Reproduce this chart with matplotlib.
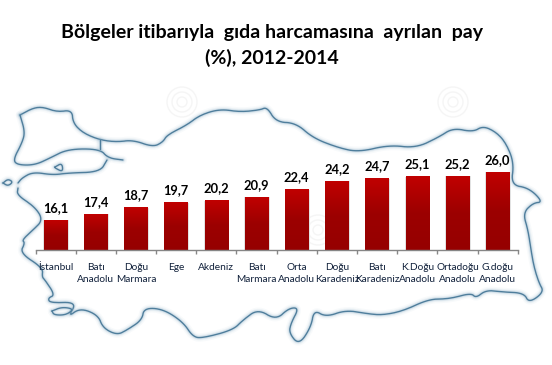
import numpy as np
from matplotlib import pyplot as plt
from matplotlib.colors import LinearSegmentedColormap

W = 552
H = 365

# chart values
regions = ["İstanbul", "Batı\nAnadolu", "Doğu\nMarmara", "Ege", "Akdeniz", "Batı\nMarmara",
           "Orta\nAnadolu", "Doğu\nKaradeniz", "Batı\nKaradeniz", "K.Doğu\nAnadolu",
           "Ortadoğu\nAnadolu", "G.doğu\nAnadolu"]
shares = [16.1, 17.4, 18.7, 19.7, 20.2, 20.9, 22.4, 24.2, 24.7, 25.1, 25.2, 26.0]
value_labels = ["16,1", "17,4", "18,7", "19,7", "20,2", "20,9", "22,4", "24,2", "24,7", "25,1", "25,2", "26,0"]

title = "Bölgeler itibarıyla  gıda harcamasına  ayrılan  pay\n(%), 2012-2014"

# background map outline, in image pixels
coast_main = [(20, 115), (33, 108), (43, 107), (57, 112), (72, 110), (73, 123), (83, 133), (100, 140),
              (117, 142), (133, 140), (153, 147), (163, 142), (167, 135), (187, 125), (200, 115),
              (220, 109), (240, 112), (260, 110), (267, 107), (276, 122), (296, 123), (313, 138),
              (339, 148), (359, 152), (389, 145), (416, 148), (439, 137), (453, 128), (473, 132),
              (483, 126), (496, 132), (506, 143), (514, 163), (511, 185), (529, 188), (543, 202),
              (533, 203), (523, 213), (528, 230), (531, 250), (534, 267), (539, 283), (544, 292),
              (529, 303), (524, 293), (503, 292), (486, 290), (476, 298), (471, 293), (449, 299),
              (429, 299), (403, 311), (383, 315), (369, 314), (346, 310), (326, 317), (314, 310),
              (311, 327), (299, 345), (289, 333), (291, 323), (299, 308), (289, 308), (276, 320),
              (258, 309), (243, 320), (233, 330), (203, 338), (193, 337), (183, 322), (163, 309),
              (144, 308), (142, 320), (127, 330), (117, 335), (103, 328), (98, 315), (80, 308),
              (68, 317), (77, 302), (50, 303), (48, 298), (55, 295), (45, 280), (42, 277), (43, 268),
              (20, 253), (25, 243), (22, 240), (33, 230), (43, 220), (35, 207), (17, 195), (18, 188)]
coast_thrace = [(20, 115), (25, 132), (22, 143), (13, 160), (18, 165), (35, 165), (50, 158), (68, 149),
                (100, 149), (108, 158), (123, 160)]
coast_marmara = [(18, 183), (22, 178), (33, 172), (53, 175), (68, 173), (100, 172), (107, 160)]
strait = [(100, 140), (100, 149)]
island_a = [(3, 183), (8, 179), (13, 182), (8, 186), (3, 183)]
island_b = [(55, 167), (62, 163), (63, 172), (55, 168), (55, 167)]
island_c = [(52, 311), (62, 307), (74, 309), (66, 315), (54, 315), (52, 311)]
map_pieces = [coast_main, coast_thrace, coast_marmara, strait, island_a, island_b, island_c]

watermark_rings = [(182, 102), (453, 102), (318, 230)]


# rounds off the corners of the hand traced outline
def smooth_outline(points, rounds=3):
    pts = np.array(points, dtype=float)
    for r in range(rounds):
        q = pts[:-1] * 0.75 + pts[1:] * 0.25
        s = pts[:-1] * 0.25 + pts[1:] * 0.75
        mid = np.empty((len(q) * 2, 2))
        mid[0::2] = q
        mid[1::2] = s
        pts = np.vstack([pts[0], mid, pts[-1]])
    return pts


fig = plt.figure(figsize=(W / 100, H / 100), dpi=100, facecolor="white")

# full size layer for the map
bg = fig.add_axes([0, 0, 1, 1])
bg.set_xlim(0, W)
bg.set_ylim(H, 0)
bg.axis("off")

for piece in map_pieces:
    pts = smooth_outline(piece)
    for lw, alpha in [(6, 0.05), (4, 0.10), (2.5, 0.22)]:
        bg.plot(pts[:, 0], pts[:, 1], color="#7fa8c2", lw=lw, alpha=alpha,
                solid_joinstyle="round", solid_capstyle="round")
    bg.plot(pts[:, 0], pts[:, 1], color="#4f7e9c", lw=1.0, solid_joinstyle="round", solid_capstyle="round")

for cx, cy in watermark_rings:
    for r in [5, 10, 15]:
        bg.add_patch(plt.Circle((cx, cy), r, fill=False, ec="#f5f5f5", lw=1))

bg.text(W / 2 - 4, 45.5, title, ha="center", va="center", fontsize=14.0, fontweight="bold",
        family="Lato", color="#000000", linespacing=1.55)

# bar chart, y axis starts at 10 and is hidden
px_per_unit = 4.85
ax = fig.add_axes([35.5 / W, (H - 250) / H, (517.7 - 35.5) / W, 19 * px_per_unit / H])
ax.patch.set_alpha(0)

bar_cmap = LinearSegmentedColormap.from_list("bar", ["#C00000", "#9C0000", "#960000"])
x = np.arange(len(regions))
bars = ax.bar(x, shares, width=0.58, bottom=0, color="#960000", linewidth=0)
gradient = np.linspace(0, 1, 64).reshape(-1, 1)
for bar in bars:
    x0 = bar.get_x()
    x1 = x0 + bar.get_width()
    top = bar.get_height()
    # soft grey edge on the right of each bar
    ax.bar(x0 + bar.get_width() / 2 + 0.012, top - 10, width=bar.get_width() + 0.05, bottom=10,
           color="#e2e2e2", linewidth=0, zorder=1)
    ax.imshow(gradient, cmap=bar_cmap, extent=(x0, x1, 10, top), aspect="auto", zorder=2)
    bar.set_visible(False)
ax.set_xlim(-0.5, 11.5)
ax.set_ylim(10, 29)

for i in range(len(regions)):
    ax.annotate(value_labels[i], (x[i], shares[i]), xytext=(0, 4.6), textcoords="offset points",
                ha="center", va="bottom", fontsize=9.3, fontweight="bold", family="Lato", color="#000000")

ax.set_xticks(x)
ax.set_xticklabels(regions, fontsize=7.3, family="Lato", color="#10203a", linespacing=1.4)
ax.set_xticks(np.arange(-0.5, 12, 1), minor=True)
ax.tick_params(axis="x", which="major", length=0, pad=9.5)
ax.tick_params(axis="x", which="minor", length=3, width=1, color="#868686")
ax.yaxis.set_visible(False)
for side in ["top", "left", "right"]:
    ax.spines[side].set_visible(False)
ax.spines["bottom"].set_color("#868686")
ax.spines["bottom"].set_linewidth(1)

plt.savefig("out.png", dpi=100)
